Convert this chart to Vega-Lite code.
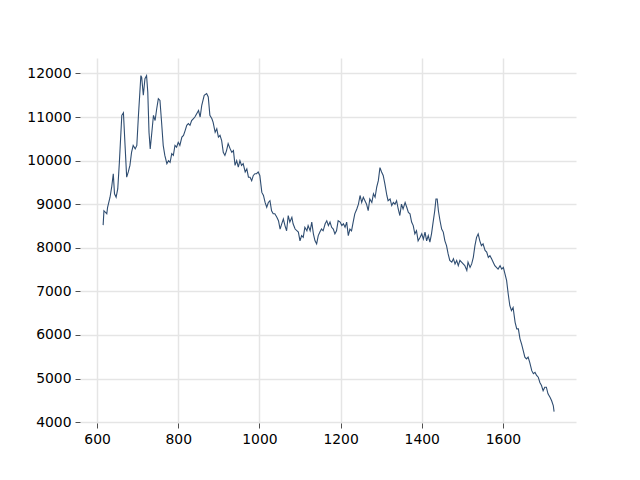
{
  "$schema": "https://vega.github.io/schema/vega-lite/v6.json",
  "width": 496,
  "height": 365,
  "autosize": {"type": "none"},
  "padding": {"left": 80, "top": 58, "right": 64, "bottom": 57},
  "background": "white",
  "data": {"values": [
    {"x":615,"y":8520},{"x":617,"y":8850},{"x":624,"y":8780},{"x":626,"y":8930},{"x":632,"y":9160},{"x":636,"y":9390},{"x":640,"y":9700},{"x":643,"y":9240},{"x":647,"y":9160},{"x":651,"y":9350},{"x":655,"y":9960},{"x":661,"y":11040},{"x":665,"y":11100},{"x":669,"y":10350},{"x":673,"y":9620},{"x":677,"y":9740},{"x":681,"y":9890},{"x":685,"y":10190},{"x":689,"y":10350},{"x":694,"y":10270},{"x":698,"y":10350},{"x":702,"y":11040},{"x":708,"y":11950},{"x":710,"y":11910},{"x":714,"y":11500},{"x":718,"y":11880},{"x":722,"y":11950},{"x":725,"y":11570},{"x":728,"y":10650},{"x":731,"y":10270},{"x":735,"y":10650},{"x":739,"y":11040},{"x":743,"y":10920},{"x":747,"y":11190},{"x":751,"y":11420},{"x":755,"y":11380},{"x":759,"y":10880},{"x":763,"y":10350},{"x":767,"y":10120},{"x":772,"y":9930},{"x":776,"y":10000},{"x":780,"y":9960},{"x":784,"y":10160},{"x":788,"y":10120},{"x":792,"y":10350},{"x":796,"y":10310},{"x":800,"y":10420},{"x":804,"y":10350},{"x":809,"y":10540},{"x":813,"y":10580},{"x":817,"y":10690},{"x":821,"y":10810},{"x":825,"y":10850},{"x":829,"y":10810},{"x":833,"y":10920},{"x":837,"y":10960},{"x":841,"y":11000},{"x":850,"y":11150},{"x":854,"y":11000},{"x":858,"y":11270},{"x":864,"y":11500},{"x":870,"y":11540},{"x":874,"y":11460},{"x":878,"y":11040},{"x":883,"y":10960},{"x":886,"y":10880},{"x":891,"y":10650},{"x":895,"y":10730},{"x":899,"y":10540},{"x":903,"y":10580},{"x":907,"y":10460},{"x":911,"y":10190},{"x":915,"y":10120},{"x":919,"y":10230},{"x":923,"y":10390},{"x":928,"y":10270},{"x":932,"y":10190},{"x":936,"y":10230},{"x":940,"y":9890},{"x":944,"y":10000},{"x":948,"y":9850},{"x":952,"y":10000},{"x":956,"y":9890},{"x":960,"y":9930},{"x":965,"y":9740},{"x":969,"y":9810},{"x":973,"y":9620},{"x":977,"y":9620},{"x":981,"y":9540},{"x":985,"y":9660},{"x":989,"y":9700},{"x":993,"y":9700},{"x":997,"y":9740},{"x":1001,"y":9660},{"x":1006,"y":9270},{"x":1010,"y":9200},{"x":1014,"y":9040},{"x":1018,"y":8930},{"x":1022,"y":9040},{"x":1026,"y":9080},{"x":1030,"y":8850},{"x":1034,"y":8780},{"x":1038,"y":8780},{"x":1043,"y":8700},{"x":1047,"y":8620},{"x":1051,"y":8430},{"x":1055,"y":8550},{"x":1059,"y":8660},{"x":1063,"y":8510},{"x":1067,"y":8390},{"x":1071,"y":8740},{"x":1075,"y":8590},{"x":1080,"y":8700},{"x":1083,"y":8550},
    {"x":1088,"y":8430},{"x":1096,"y":8360},{"x":1100,"y":8160},{"x":1104,"y":8280},{"x":1108,"y":8240},{"x":1112,"y":8470},{"x":1117,"y":8390},{"x":1120,"y":8510},{"x":1125,"y":8390},{"x":1129,"y":8590},{"x":1133,"y":8320},{"x":1137,"y":8160},{"x":1141,"y":8090},{"x":1145,"y":8280},{"x":1149,"y":8360},{"x":1153,"y":8430},{"x":1157,"y":8390},{"x":1162,"y":8550},{"x":1166,"y":8620},{"x":1170,"y":8510},{"x":1174,"y":8590},{"x":1178,"y":8470},{"x":1182,"y":8430},{"x":1186,"y":8320},{"x":1190,"y":8390},{"x":1194,"y":8620},{"x":1199,"y":8590},{"x":1203,"y":8510},{"x":1207,"y":8550},{"x":1211,"y":8470},{"x":1215,"y":8590},{"x":1219,"y":8280},{"x":1223,"y":8430},{"x":1227,"y":8390},{"x":1231,"y":8590},{"x":1235,"y":8780},{"x":1240,"y":8890},{"x":1244,"y":9000},{"x":1248,"y":9200},{"x":1252,"y":9040},{"x":1256,"y":9160},{"x":1260,"y":9080},{"x":1264,"y":9000},{"x":1268,"y":8850},{"x":1272,"y":9120},{"x":1277,"y":9040},{"x":1281,"y":9240},{"x":1285,"y":9160},{"x":1289,"y":9390},{"x":1293,"y":9540},{"x":1297,"y":9840},{"x":1301,"y":9740},{"x":1305,"y":9660},{"x":1309,"y":9470},{"x":1314,"y":9200},{"x":1317,"y":9080},{"x":1322,"y":9120},{"x":1326,"y":8970},{"x":1330,"y":9040},
    {"x":1334,"y":9000},{"x":1338,"y":9080},{"x":1342,"y":8890},{"x":1346,"y":8740},{"x":1350,"y":9000},{"x":1354,"y":8890},{"x":1359,"y":9040},{"x":1363,"y":8930},{"x":1367,"y":8810},{"x":1371,"y":8780},{"x":1375,"y":8590},{"x":1379,"y":8510},{"x":1383,"y":8320},{"x":1387,"y":8390},{"x":1391,"y":8160},{"x":1396,"y":8240},{"x":1400,"y":8320},{"x":1404,"y":8200},{"x":1408,"y":8360},{"x":1412,"y":8160},{"x":1416,"y":8280},{"x":1420,"y":8130},{"x":1424,"y":8320},{"x":1428,"y":8590},{"x":1432,"y":8850},{"x":1435,"y":9120},{"x":1438,"y":9120},{"x":1441,"y":8850},{"x":1445,"y":8620},{"x":1449,"y":8430},{"x":1453,"y":8360},{"x":1457,"y":8160},{"x":1461,"y":8050},{"x":1465,"y":7860},{"x":1469,"y":7710},{"x":1474,"y":7670},{"x":1478,"y":7750},{"x":1482,"y":7630},{"x":1486,"y":7710},{"x":1490,"y":7590},{"x":1494,"y":7710},{"x":1498,"y":7670},{"x":1502,"y":7630},{"x":1506,"y":7590},{"x":1511,"y":7480},{"x":1514,"y":7670},{"x":1519,"y":7550},{"x":1523,"y":7630},{"x":1527,"y":7780},{"x":1531,"y":8050},{"x":1535,"y":8240},{"x":1539,"y":8320},{"x":1543,"y":8160},{"x":1547,"y":8050},{"x":1551,"y":8090},{"x":1556,"y":7940},{"x":1560,"y":7900},{"x":1564,"y":7780},{"x":1568,"y":7820},{"x":1572,"y":7750},{"x":1576,"y":7670},
    {"x":1580,"y":7590},{"x":1588,"y":7510},{"x":1593,"y":7590},{"x":1597,"y":7510},{"x":1601,"y":7550},{"x":1605,"y":7400},{"x":1609,"y":7250},{"x":1613,"y":6940},{"x":1617,"y":6670},{"x":1621,"y":6560},{"x":1625,"y":6630},{"x":1630,"y":6290},{"x":1634,"y":6140},{"x":1638,"y":6140},{"x":1642,"y":5910},{"x":1646,"y":5790},{"x":1650,"y":5640},{"x":1654,"y":5490},{"x":1658,"y":5450},{"x":1662,"y":5490},{"x":1666,"y":5370},{"x":1671,"y":5180},{"x":1675,"y":5110},{"x":1679,"y":5140},{"x":1683,"y":5070},{"x":1687,"y":5030},{"x":1691,"y":4910},{"x":1695,"y":4840},{"x":1699,"y":4720},{"x":1703,"y":4800},{"x":1707,"y":4800},{"x":1711,"y":4650},{"x":1716,"y":4570},{"x":1720,"y":4490},{"x":1724,"y":4380},{"x":1726,"y":4240}
  ]},
  "mark": {"type": "line", "color": "#2f4d71", "strokeWidth": 1.1, "clip": true},
  "encoding": {
    "x": {"field": "x", "type": "quantitative", "title": null,
      "scale": {"domain": [558, 1780], "nice": false, "zero": false},
      "axis": {"values": [600, 800, 1000, 1200, 1400, 1600], "format": "d"}},
    "y": {"field": "y", "type": "quantitative", "title": null,
      "scale": {"domain": [3979, 12355], "nice": false, "zero": false},
      "axis": {"values": [4000, 5000, 6000, 7000, 8000, 9000, 10000, 11000, 12000], "format": "d"}}
  },
  "config": {
    "view": {"stroke": null},
    "axis": {
      "domain": false,
      "grid": true,
      "gridColor": "#e5e5e5",
      "gridWidth": 1.5,
      "ticks": true,
      "tickColor": "#222222",
      "tickSize": 5,
      "tickWidth": 0.8,
      "labelFont": "DejaVu Sans",
      "labelFontSize": 13.9,
      "labelColor": "#000000",
      "labelPadding": 4,
      "labelFlush": false,
      "labelOverlap": false
    }
  }
}
